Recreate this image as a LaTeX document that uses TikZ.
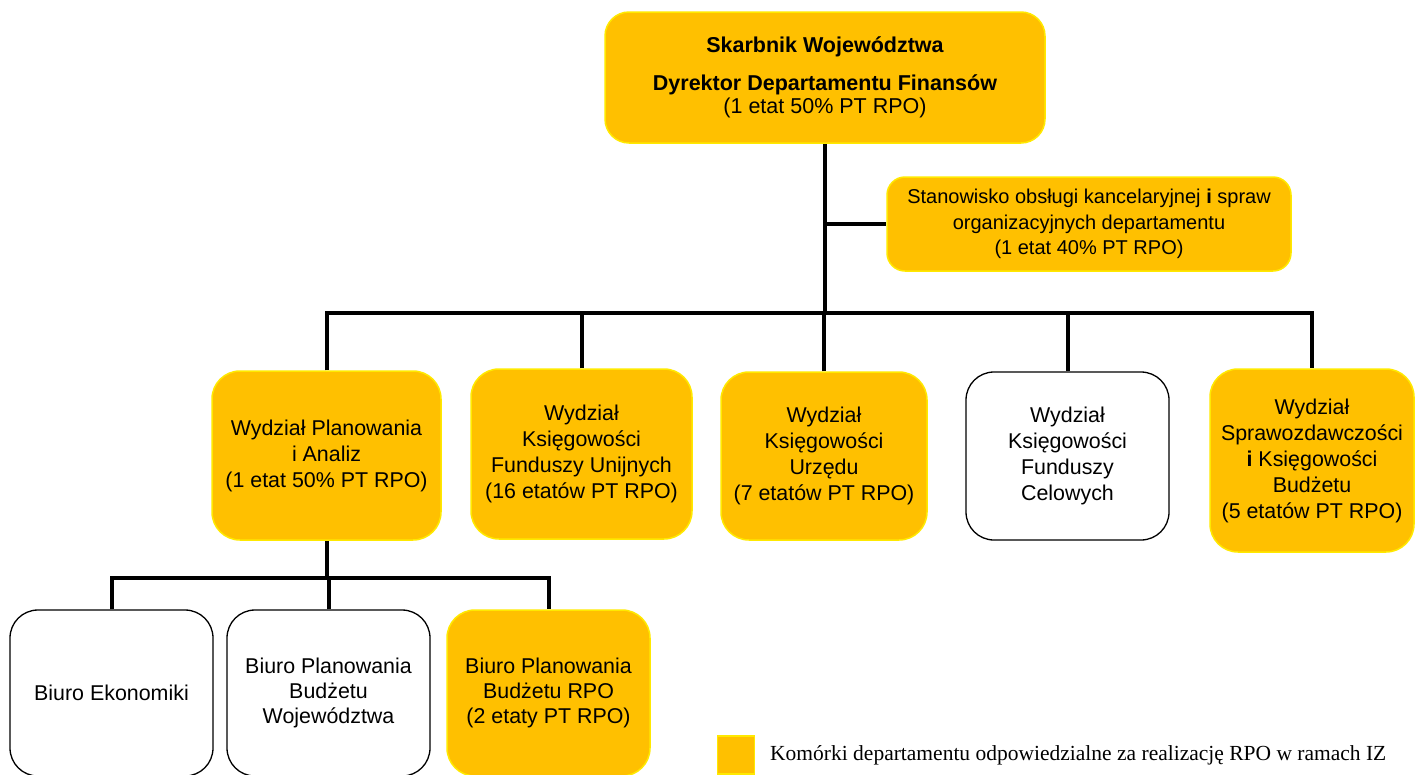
\documentclass[tikz,border=0pt]{standalone}
\usepackage{fontspec}
\setmainfont{Liberation Sans}
\newfontfamily\legendfont{Liberation Serif}
\definecolor{boxfill}{HTML}{FFC000}
\definecolor{boxedge}{HTML}{FFE900}
\tikzset{
  orgbox/.style={draw=boxedge, line width=1.5pt, fill=boxfill, rounded corners=28pt, align=center, inner sep=0pt,
     font=\fontsize{21.4}{26}\selectfont},
  whitebox/.style={orgbox, draw=black, fill=white, line width=1.3pt},
  conn/.style={draw=black, line width=4pt}
}
\begin{document}
\begin{tikzpicture}[x=1pt,y=-1pt]
\useasboundingbox (0,0) rectangle (1415,774);
\clip (0,0) rectangle (1415,774);
\coordinate (busy) at (0,313);
\coordinate (subbus) at (0,578);
% nodes
\node[orgbox, rounded corners=24pt, minimum width=440pt, minimum height=131pt, font=\fontsize{21.5}{23.5}\selectfont] (top) at (825,77.5)
  {\textbf{Skarbnik Województwa}\\[14pt]\textbf{Dyrektor Departamentu Finansów}\\(1 etat 50\% PT RPO)};
\node[orgbox, rounded corners=18pt, minimum width=404pt, minimum height=94pt, font=\fontsize{20}{25.5}\selectfont] (side) at (1089,224)
  {Stanowisko obsługi kancelaryjnej \textbf{i} spraw\\organizacyjnych departamentu\\(1 etat 40\% PT RPO)};
\node[orgbox, minimum width=229pt, minimum height=169pt] (w1) at (326.5,455.5)
  {Wydział Planowania\\i Analiz\\(1 etat 50\% PT RPO)};
\node[orgbox, minimum width=221pt, minimum height=170pt] (w2) at (581.5,454)
  {Wydział\\Księgowości\\Funduszy Unijnych\\(16 etatów PT RPO)};
\node[orgbox, minimum width=206pt, minimum height=168pt] (w3) at (824,456)
  {Wydział\\Księgowości\\Urzędu\\(7 etatów PT RPO)};
\node[whitebox, minimum width=203pt, minimum height=168pt] (w4) at (1067.5,456)
  {Wydział\\Księgowości\\Funduszy\\Celowych};
\node[orgbox, minimum width=204pt, minimum height=183pt] (w5) at (1312,460.5)
  {Wydział\\Sprawozdawczości\\\textbf{i} Księgowości\\Budżetu\\(5 etatów PT RPO)};
\node[whitebox, minimum width=203pt, minimum height=166pt, font=\fontsize{21.4}{25}\selectfont] (b1) at (111.5,693)
  {Biuro Ekonomiki};
\node[whitebox, minimum width=203pt, minimum height=166pt, font=\fontsize{21.4}{25}\selectfont] (b2) at (328.5,693)
  {Biuro Planowania\\Budżetu\\Województwa};
\node[orgbox, minimum width=203pt, minimum height=166pt, font=\fontsize{21.4}{25}\selectfont] (b3) at (548.5,693)
  {Biuro Planowania\\Budżetu RPO\\(2 etaty PT RPO)};
% legend
\node[draw=boxedge, line width=1.5pt, fill=boxfill, minimum width=37pt, minimum height=38pt, inner sep=0pt] (leg) at (736,755) {};
\node[anchor=west, inner sep=0pt, font=\legendfont\fontsize{21.5}{24}\selectfont] (legtext) at (770,755)
  {Komórki departamentu odpowiedzialne za realizację RPO w ramach IZ};
% connectors
\draw[conn] (top.south) -- (top.south |- busy);
\draw[conn] (top.south |- side.west) -- (side.west);
\draw[conn] (w1.north) -- (w1.north |- busy) -- (w5.north |- busy) -- (w5.north);
\draw[conn] (w2.north) -- (w2.north |- busy);
\draw[conn] (w3.north) -- (w3.north |- busy);
\draw[conn] (w4.north) -- (w4.north |- busy);
\draw[conn] (w1.south) -- (w1.south |- subbus);
\draw[conn] (b1.north) -- (b1.north |- subbus) -- (b3.north |- subbus) -- (b3.north);
\draw[conn] (b2.north) -- (b2.north |- subbus);
\end{tikzpicture}
\end{document}
